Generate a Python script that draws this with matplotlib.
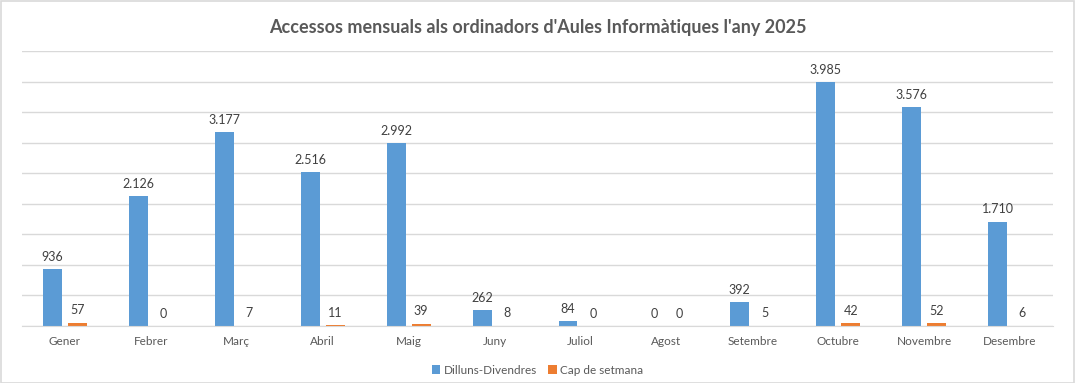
import matplotlib
matplotlib.use("Agg")
import matplotlib.pyplot as plt
import numpy as np
from matplotlib.patches import Rectangle

months = ["Gener", "Febrer", "Març", "Abril", "Maig", "Juny", "Juliol",
          "Agost", "Setembre", "Octubre", "Novembre", "Desembre"]
weekdays = [936, 2126, 3177, 2516, 2992, 262, 84, 0, 392, 3985, 3576, 1710]
weekend = [57, 0, 7, 11, 39, 8, 0, 0, 5, 42, 52, 6]
series_names = ["Dilluns-Divendres", "Cap de setmana"]
title = "Accessos mensuals als ordinadors d'Aules Informàtiques l'any 2025"

plt.rcParams['font.family'] = ['Lato', 'DejaVu Sans']
TXT = "#595959"
BLUE = "#5b9bd5"
ORANGE = "#ed7d31"

W, H = 1075, 383
fig = plt.figure(figsize=(W / 100, H / 100), dpi=100)
fig.patches.append(Rectangle((0.5 / W, 0.5 / H), 1 - 1.5 / W, 1 - 1.5 / H,
                             transform=fig.transFigure, fill=False,
                             edgecolor="#d9d9d9", linewidth=1.2))

ax = fig.add_axes([22 / W, (H - 326) / H, (1053 - 22) / W, (326 - 51) / H])
x = np.arange(len(months))
bw = 0.22
off = 0.145
b1 = ax.bar(x - off, weekdays, bw, color=BLUE, label=series_names[0])
b2 = ax.bar(x + off, weekend, bw, color=ORANGE, label=series_names[1])

fmt = lambda v: f"{int(v):,}".replace(",", ".")
for bars, vals in ((b1, weekdays), (b2, weekend)):
    ax.bar_label(bars, labels=[fmt(v) for v in vals], padding=4.5,
                 fontsize=9, color="#404040")

ax.set_xlim(-0.5, len(months) - 0.5)
ax.set_ylim(0, 4500)
ax.set_yticks(np.arange(0, 4501, 500))
ax.yaxis.grid(True, color="#d9d9d9", linewidth=1)
ax.set_axisbelow(True)
ax.tick_params(axis="y", left=False, labelleft=False)
ax.tick_params(axis="x", length=0, pad=7, labelsize=8.5, labelcolor=TXT)
ax.set_xticks(x)
ax.set_xticklabels(months)
for s in ["top", "right", "left"]:
    ax.spines[s].set_visible(False)
ax.spines["bottom"].set_color("#d9d9d9")

fig.text(0.5, 1 - 27 / H, title, ha="center", va="center", fontsize=13,
         fontweight="bold", color=TXT)

fig.legend(handles=[b1, b2], loc="center", bbox_to_anchor=(0.5, 1 - 370 / H),
           ncol=2, frameon=False, fontsize=8.5, labelcolor=TXT,
           handlelength=0.7, handleheight=0.7, handletextpad=0.3,
           columnspacing=1.0)

fig.savefig("out.png", dpi=100)
